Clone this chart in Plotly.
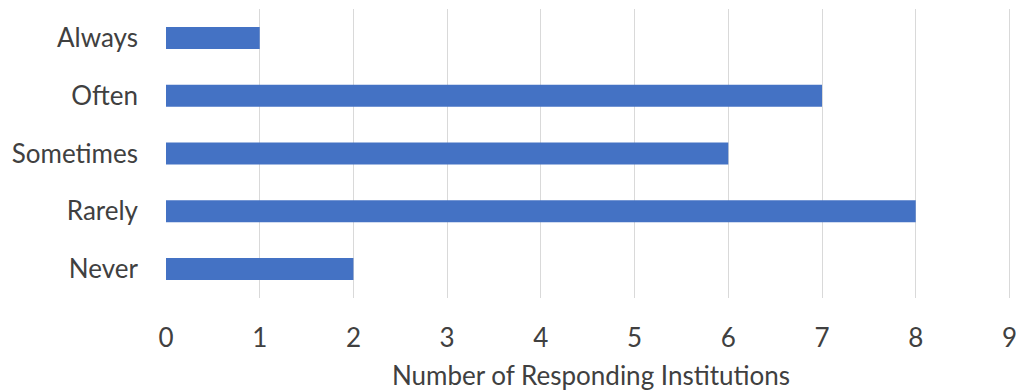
import plotly.graph_objects as go

categories = ["Never", "Rarely", "Sometimes", "Often", "Always"]
values = [2, 8, 6, 7, 1]
x_ticks = [0, 1, 2, 3, 4, 5, 6, 7, 8, 9]
x_title = "Number of Responding Institutions"

FONT = "Lato"
TXT = "#404040"
FS = 26

fig = go.Figure(go.Bar(
    x=values, y=categories, orientation="h",
    marker=dict(color="#4472C4", line=dict(width=0)),
    width=0.38,
))

fig.update_layout(
    width=1016, height=391,
    margin=dict(l=166, r=0, t=9, b=93),
    paper_bgcolor="white", plot_bgcolor="white",
    font=dict(family=FONT, size=FS, color=TXT),
    showlegend=False,
    xaxis=dict(
        range=[0, 9.07], tickvals=x_ticks, showgrid=True, gridcolor="#d9d9d9",
        gridwidth=1, zeroline=False, showline=False, automargin=False,
        ticklabelstandoff=22, ticklabeloverflow="allow",
        title=dict(text=x_title, standoff=16, font=dict(size=FS, color=TXT)),
        tickfont=dict(size=FS, color=TXT),
    ),
    yaxis=dict(
        categoryorder="array", categoryarray=categories,
        showgrid=False, zeroline=False, showline=False, automargin=False,
        ticklabelstandoff=27,
        tickfont=dict(size=FS, color=TXT),
    ),
)

fig.write_html("out.html")
